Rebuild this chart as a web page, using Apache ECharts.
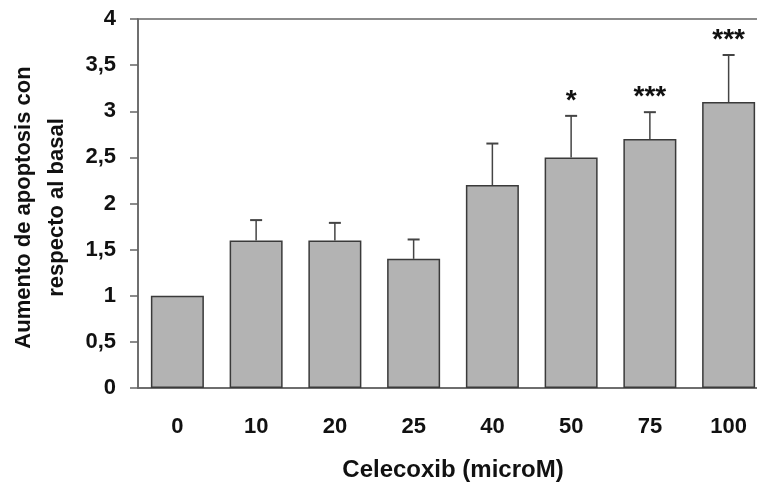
<!DOCTYPE html>
<html>
<head>
<meta charset="utf-8">
<script src="https://cdn.jsdelivr.net/npm/echarts@6/dist/echarts.min.js"></script>
<style>
  html, body { margin: 0; padding: 0; background: #fff; }
  #chart { width: 757px; height: 485px; }
</style>
</head>
<body>
<div id="chart"></div>
<script>
// Celecoxib doses and apoptosis increase vs. basal
const doses = ['0', '10', '20', '25', '40', '50', '75', '100'];
const means = [1, 1.6, 1.6, 1.4, 2.2, 2.5, 2.7, 3.1];
const errUp = [1, 1.82, 1.79, 1.61, 2.65, 2.95, 2.99, 3.61];
const stars = ['', '', '', '', '', '*', '***', '***'];

const font = '"Liberation Sans", Arial, sans-serif';
const axisColor = '#666';

const chart = echarts.init(document.getElementById('chart'));

const option = {
  animation: false,
  grid: {
    left: 138, right: -11, top: 19, bottom: 97,
    outerBoundsMode: 'none',
    show: true, borderColor: axisColor, borderWidth: 1.5
  },
  xAxis: {
    type: 'category',
    data: doses,
    name: 'Celecoxib (microM)',
    nameLocation: 'middle',
    nameGap: 70,
    nameTextStyle: { fontFamily: font, fontWeight: 'bold', fontSize: 24, color: '#111' },
    axisLine: { lineStyle: { color: axisColor, width: 1.5 } },
    axisTick: { show: false },
    axisLabel: { fontFamily: font, fontWeight: 'bold', fontSize: 22, color: '#111', margin: 28 }
  },
  yAxis: {
    type: 'value',
    min: 0, max: 4, interval: 0.5,
    name: 'Aumento de apoptosis con\nrespecto al basal',
    nameLocation: 'middle',
    nameGap: 65,
    nameRotate: 90,
    nameTextStyle: {
      fontFamily: font, fontWeight: 'bold', fontSize: 22, color: '#111', lineHeight: 33,
      padding: [0, 8, 0, 0]
    },
    axisLine: { show: true, lineStyle: { color: axisColor, width: 1.5 } },
    axisTick: { show: true, inside: false, length: 8, lineStyle: { color: axisColor, width: 1.5 } },
    splitLine: { show: false },
    axisLabel: {
      fontFamily: font, fontWeight: 'bold', fontSize: 22, color: '#111', margin: 22,
      formatter: v => String(v).replace('.', ',')
    }
  },
  series: [
    {
      type: 'bar',
      data: means,
      barWidth: 53,
      itemStyle: { color: '#b3b3b3', borderColor: '#3a3a3a', borderWidth: 1.5 },
      z: 2
    },
    {
      type: 'custom',
      data: doses.map((d, i) => [i, means[i], errUp[i]]),
      z: 3,
      renderItem: function (params, api) {
        const i = api.value(0);
        const base = api.coord([i, api.value(1)]);
        const top = api.coord([i, api.value(2)]);
        const children = [];
        if (api.value(2) > api.value(1)) {
          children.push({
            type: 'line',
            shape: { x1: base[0], y1: base[1], x2: top[0], y2: top[1] },
            style: { stroke: '#444', lineWidth: 1.5 }
          });
          children.push({
            type: 'line',
            shape: { x1: top[0] - 6, y1: top[1], x2: top[0] + 6, y2: top[1] },
            style: { stroke: '#444', lineWidth: 2 }
          });
        }
        if (stars[i]) {
          children.push({
            type: 'text',
            style: {
              x: top[0], y: top[1] - 15,
              text: stars[i],
              fontFamily: font, fontWeight: 'bold', fontSize: 28,
              fill: '#111', align: 'center', verticalAlign: 'middle'
            }
          });
        }
        return { type: 'group', children: children };
      }
    }
  ]
};

chart.setOption(option);
</script>
</body>
</html>
